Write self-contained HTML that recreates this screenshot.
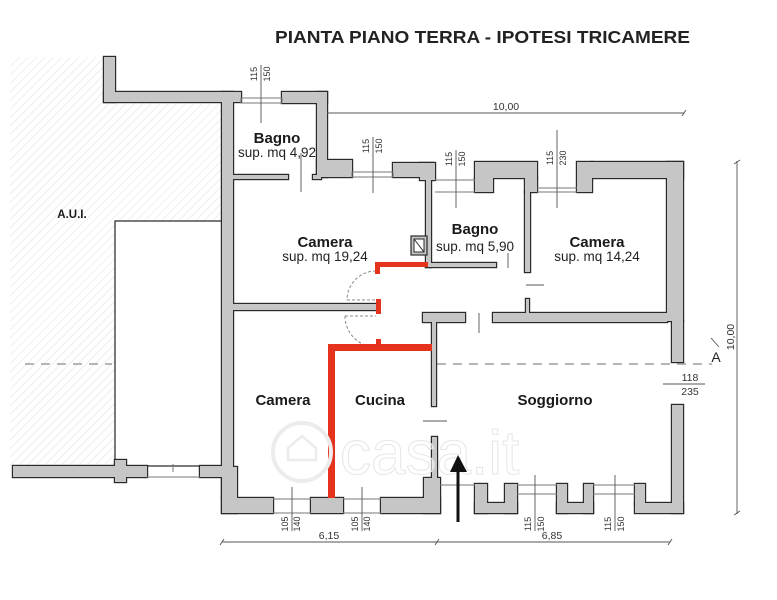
<!DOCTYPE html>
<html><head><meta charset="utf-8">
<style>
html,body{margin:0;padding:0;background:#fff;}
svg{display:block;}
text{font-family:"Liberation Sans",sans-serif;fill:#1a1a1a;}
.b{font-weight:bold;font-size:15px;text-anchor:middle;}
.s{font-size:13.5px;text-anchor:middle;fill:#222;}
.d{font-size:9px;text-anchor:middle;fill:#333;}
.dm{font-size:10.5px;text-anchor:middle;fill:#333;}
</style></head><body>
<svg width="777" height="600" viewBox="0 0 777 600" xmlns="http://www.w3.org/2000/svg" xmlns:xlink="http://www.w3.org/1999/xlink">
<defs>
<pattern id="h" width="6" height="6" patternUnits="userSpaceOnUse" patternTransform="rotate(45)">
<line x1="0" y1="0" x2="0" y2="6" stroke="#e3e3e3" stroke-width="1.2"/>
</pattern>
<g id="walls">
<rect x="104" y="57" width="11" height="45"/>
<rect x="104" y="92" width="137" height="10"/>
<rect x="282" y="92" width="45" height="11"/>
<rect x="222" y="92" width="11" height="406"/>
<rect x="222" y="467" width="15" height="46"/>
<rect x="222" y="498" width="51" height="15"/>
<rect x="311" y="498" width="32" height="15"/>
<rect x="381" y="498" width="59" height="15"/>
<rect x="424" y="478" width="16" height="35"/>
<rect x="432" y="437" width="5" height="45"/>
<rect x="13" y="466" width="134" height="11"/>
<rect x="115" y="460" width="11" height="22"/>
<rect x="200" y="466" width="22" height="11"/>
<rect x="317" y="92" width="10" height="85"/>
<rect x="317" y="160" width="35" height="17"/>
<rect x="233" y="175" width="55" height="4"/>
<rect x="313" y="175" width="8" height="4"/>
<rect x="393" y="163" width="40" height="14"/>
<rect x="420" y="163" width="15" height="17"/>
<rect x="426" y="177" width="5" height="90"/>
<rect x="426" y="263" width="70" height="4"/>
<rect x="475" y="162" width="62" height="16"/>
<rect x="475" y="178" width="18" height="14"/>
<rect x="525" y="178" width="12" height="14"/>
<rect x="525" y="192" width="5" height="80"/>
<rect x="577" y="162" width="15" height="30"/>
<rect x="592" y="162" width="91" height="16"/>
<rect x="667" y="162" width="16" height="159"/>
<rect x="493" y="313" width="174" height="9"/>
<rect x="672" y="321" width="11" height="41"/>
<rect x="672" y="405" width="11" height="108"/>
<rect x="635" y="503" width="48" height="10"/>
<rect x="635" y="484" width="10" height="20"/>
<rect x="475" y="484" width="12" height="29"/>
<rect x="505" y="484" width="12" height="29"/>
<rect x="475" y="503" width="42" height="10"/>
<rect x="557" y="484" width="10" height="29"/>
<rect x="584" y="484" width="9" height="29"/>
<rect x="557" y="503" width="36" height="10"/>
<rect x="423" y="313" width="42" height="9"/>
<rect x="432" y="322" width="4" height="84"/>
<rect x="526" y="299" width="3" height="14"/>
<rect x="233" y="304" width="143" height="6"/>
</g>
</defs>

<text x="275" y="43" font-size="17.5" font-weight="bold" textLength="415" lengthAdjust="spacingAndGlyphs" style="fill:#222">PIANTA PIANO TERRA -  IPOTESI TRICAMERE</text>

<rect x="10" y="57" width="212" height="409" fill="url(#h)"/>
<rect x="115" y="57" width="107" height="35" fill="#fff"/>
<rect x="115" y="221" width="107" height="245" fill="#fff" stroke="#333" stroke-width="1.3"/>
<text x="72" y="218" font-size="11.5" font-weight="bold" text-anchor="middle">A.U.I.</text>

<g stroke="#8a8a8a" stroke-width="1.2" stroke-dasharray="9,7" fill="none">
<line x1="25" y1="364" x2="112" y2="364"/>
<line x1="437" y1="364" x2="712" y2="364"/>
</g>

<use xlink:href="#walls" href="#walls" fill="#c6c6c6" stroke="#2a2a2a" stroke-width="2.4"/>
<use xlink:href="#walls" href="#walls" fill="#c6c6c6" stroke="none"/>

<rect x="411" y="236" width="16" height="19" fill="#c6c6c6" stroke="#2a2a2a" stroke-width="1.2"/>
<rect x="414" y="239" width="10" height="13" fill="#fff" stroke="#2a2a2a" stroke-width="1"/>
<line x1="414" y1="239" x2="424" y2="252" stroke="#2a2a2a" stroke-width="1"/>

<g fill="none" stroke="#777" stroke-width="1">
<rect x="241" y="98" width="41" height="5"/>
<rect x="352" y="172" width="41" height="5"/>
<line x1="435" y1="180" x2="475" y2="180"/><line x1="435" y1="192" x2="475" y2="192"/>
<line x1="537" y1="188" x2="577" y2="188"/><line x1="537" y1="192" x2="577" y2="192"/>
<line x1="273" y1="499" x2="311" y2="499"/><line x1="273" y1="513" x2="311" y2="513"/>
<line x1="343" y1="499" x2="381" y2="499"/><line x1="343" y1="513" x2="381" y2="513"/>
<line x1="440" y1="485" x2="475" y2="485"/>
<line x1="517" y1="485" x2="557" y2="485"/><line x1="517" y1="494" x2="557" y2="494"/>
<line x1="593" y1="485" x2="635" y2="485"/><line x1="593" y1="494" x2="635" y2="494"/>
<line x1="147" y1="477" x2="200" y2="477"/>
<line x1="173" y1="464" x2="173" y2="472"/>
</g>

<g fill="none" stroke="#8a8a8a" stroke-width="1" stroke-dasharray="3,2">
<path d="M376 271 A29 29 0 0 0 347 300"/>
<line x1="347" y1="300" x2="376" y2="300"/>
<path d="M345 316 A31 31 0 0 0 376 347"/>
<line x1="345" y1="316" x2="376" y2="316"/>
</g>

<g fill="#e5331d">
<rect x="375" y="262" width="53" height="5"/>
<rect x="375" y="262" width="5" height="12"/>
<rect x="376" y="299" width="5" height="15"/>
<rect x="376" y="339" width="5" height="9"/>
<rect x="328" y="344" width="104" height="7"/>
<rect x="328" y="344" width="7" height="154"/>
</g>

<g stroke="#555" stroke-width="0.9" fill="none">
<line x1="261" y1="65" x2="261" y2="123"/>
<line x1="373" y1="137" x2="373" y2="193"/>
<line x1="456" y1="150" x2="456" y2="208"/>
<line x1="557" y1="130" x2="557" y2="208"/>
<line x1="292" y1="487" x2="292" y2="531"/>
<line x1="362" y1="487" x2="362" y2="531"/>
<line x1="535" y1="475" x2="535" y2="531"/>
<line x1="615" y1="475" x2="615" y2="531"/>
<line x1="301" y1="153" x2="301" y2="192"/>
<line x1="508" y1="253" x2="508" y2="268"/>
<line x1="526" y1="285" x2="544" y2="285"/>
<line x1="479" y1="313" x2="479" y2="333"/>
<line x1="423" y1="421" x2="447" y2="421"/>
<line x1="663" y1="384" x2="705" y2="384"/>
<line x1="327" y1="113" x2="684" y2="113"/>
<line x1="222" y1="542" x2="670" y2="542"/>
<line x1="737" y1="161" x2="737" y2="514"/>
<line x1="682" y1="116" x2="686" y2="110"/>
<line x1="220" y1="545" x2="224" y2="539"/>
<line x1="435" y1="545" x2="439" y2="539"/>
<line x1="668" y1="545" x2="672" y2="539"/>
<line x1="734" y1="164" x2="740" y2="160"/>
<line x1="734" y1="515" x2="740" y2="511"/>
<line x1="711" y1="338" x2="719" y2="347"/>
</g>

<text class="d" transform="translate(257,74) rotate(-90)">115</text>
<text class="d" transform="translate(270,74) rotate(-90)">150</text>
<text class="d" transform="translate(369,146) rotate(-90)">115</text>
<text class="d" transform="translate(382,146) rotate(-90)">150</text>
<text class="d" transform="translate(452,159) rotate(-90)">115</text>
<text class="d" transform="translate(465,159) rotate(-90)">150</text>
<text class="d" transform="translate(553,158) rotate(-90)">115</text>
<text class="d" transform="translate(566,158) rotate(-90)">230</text>
<text class="d" transform="translate(288,524) rotate(-90)">105</text>
<text class="d" transform="translate(300,524) rotate(-90)">140</text>
<text class="d" transform="translate(358,524) rotate(-90)">105</text>
<text class="d" transform="translate(370,524) rotate(-90)">140</text>
<text class="d" transform="translate(531,524) rotate(-90)">115</text>
<text class="d" transform="translate(544,524) rotate(-90)">150</text>
<text class="d" transform="translate(611,524) rotate(-90)">115</text>
<text class="d" transform="translate(624,524) rotate(-90)">150</text>

<text class="dm" x="506" y="110">10,00</text>
<text class="dm" x="329" y="539">6,15</text>
<text class="dm" x="552" y="539">6,85</text>
<text class="dm" transform="translate(734,337) rotate(-90)">10,00</text>
<text class="dm" x="690" y="381">118</text>
<text class="dm" x="690" y="395">235</text>
<text x="716" y="362" font-size="14" text-anchor="middle" style="fill:#222">A</text>

<text class="b" x="277" y="143">Bagno</text>
<text class="s" x="277" y="157">sup. mq 4,92</text>
<text class="b" x="325" y="247">Camera</text>
<text class="s" x="325" y="261">sup. mq 19,24</text>
<text class="b" x="475" y="234">Bagno</text>
<text class="s" x="475" y="251">sup. mq 5,90</text>
<text class="b" x="597" y="247">Camera</text>
<text class="s" x="597" y="261">sup. mq 14,24</text>
<text class="b" x="283" y="405">Camera</text>
<text class="b" x="380" y="405">Cucina</text>
<text class="b" x="555" y="405">Soggiorno</text>

<g>
<circle cx="302" cy="452" r="29" fill="none" stroke="#ececec" stroke-width="4"/>
<path d="M288 460 V448 L302 436 L316 448 V460 Z" fill="none" stroke="#ececec" stroke-width="2.5"/>
<text x="340" y="474" font-size="62" style="fill:#ffffff;fill-opacity:0.6;stroke:#e6e6e6;stroke-width:1">casa.it</text>
</g>

<line x1="458" y1="470" x2="458" y2="522" stroke="#111" stroke-width="3"/>
<polygon points="450,472 458,455 467,472" fill="#111"/>
</svg>
</body></html>
